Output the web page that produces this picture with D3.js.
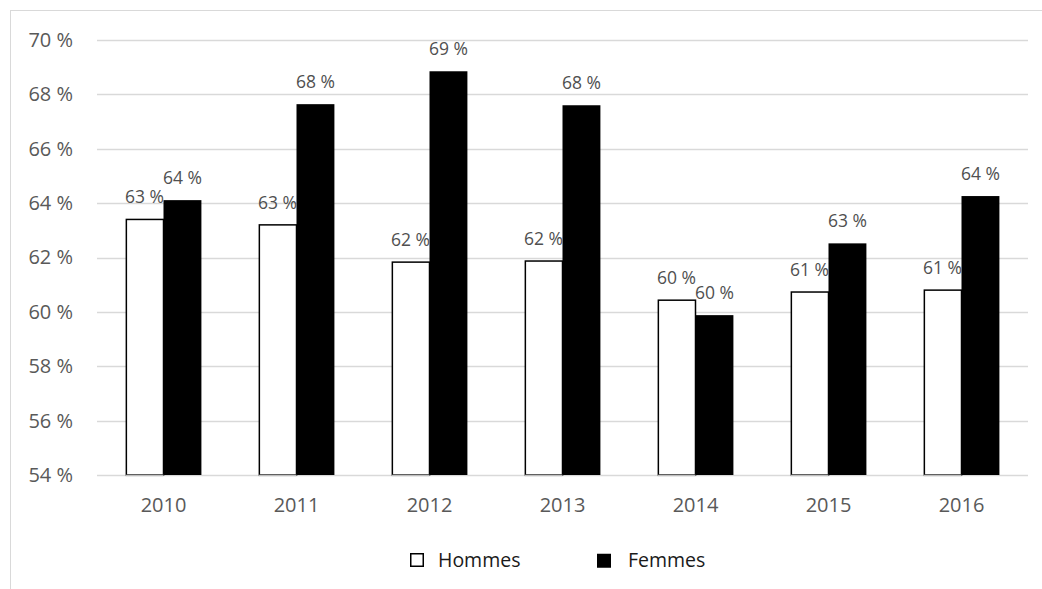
<!DOCTYPE html>
<html>
<head>
<meta charset="utf-8">
<script src="https://cdn.jsdelivr.net/npm/d3@7"></script>
<style>
  body { margin: 0; background: #fff; }
  svg { display: block; font-family: "Open Sans", "Noto Sans", sans-serif; }
</style>
</head>
<body>
<div id="chart"></div>
<script>
// data
var years = ["2010", "2011", "2012", "2013", "2014", "2015", "2016"];
var hommes = [63.4, 63.2, 61.83, 61.87, 60.43, 60.73, 60.8];
var femmes = [64.11, 67.64, 68.85, 67.6, 59.88, 62.52, 64.26];
var yTicks = [54, 56, 58, 60, 62, 64, 66, 68, 70];
var seriesNames = ["Hommes", "Femmes"];

var W = 1042, H = 589;
var margin = {top: 40, right: 14, bottom: 114, left: 97};
var width = W - margin.left - margin.right,
    height = H - margin.top - margin.bottom;

var svg = d3.select("#chart").append("svg")
  .attr("width", W)
  .attr("height", H);

// chart frame (cropped on right/bottom)
svg.append("rect")
  .attr("x", 10.5).attr("y", 10.5)
  .attr("width", 1200).attr("height", 800)
  .attr("fill", "none")
  .attr("stroke", "#d9d9d9")
  .attr("stroke-width", 1);

var g = svg.append("g")
  .attr("transform", "translate(" + margin.left + "," + margin.top + ")");

var x0 = d3.scaleBand().domain(years).range([0, width]).paddingInner(0.43).paddingOuter(0.215);
var x1 = d3.scaleBand().domain(seriesNames).range([0, x0.bandwidth()]);
var y = d3.scaleLinear().domain([54, 70]).range([height, 0]);

// gridlines
g.append("g")
  .selectAll("line")
  .data(yTicks)
  .enter().append("line")
    .attr("x1", 0).attr("x2", width)
    .attr("y1", function(d) { return Math.round(y(d)) + 0.5; })
    .attr("y2", function(d) { return Math.round(y(d)) + 0.5; })
    .attr("stroke", "#d9d9d9")
    .attr("stroke-width", 1.5);

// y axis labels
var yAxis = d3.axisLeft(y).tickValues(yTicks).tickSize(0).tickPadding(24)
  .tickFormat(function(d) { return d + " %"; });
g.append("g").call(yAxis)
  .call(function(s) { s.select(".domain").remove(); })
  .selectAll("text")
    .attr("fill", "#595959")
    .style("font-size", "20px")
    .style("font-family", "\"Open Sans\", \"Noto Sans\", sans-serif");

// x axis labels
var xAxis = d3.axisBottom(x0).tickSize(0).tickPadding(23);
g.append("g").attr("transform", "translate(0," + height + ")").call(xAxis)
  .call(function(s) { s.select(".domain").remove(); })
  .selectAll("text")
    .attr("fill", "#595959")
    .style("font-size", "20px")
    .style("font-family", "\"Open Sans\", \"Noto Sans\", sans-serif");

var rows = years.map(function(yr, i) {
  return {year: yr, vals: [{s: "Hommes", v: hommes[i]}, {s: "Femmes", v: femmes[i]}]};
});

var groups = g.selectAll(".grp")
  .data(rows)
  .enter().append("g")
    .attr("class", "grp")
    .attr("transform", function(d) { return "translate(" + x0(d.year) + ",0)"; });

groups.selectAll("rect")
  .data(function(d) { return d.vals; })
  .enter().append("rect")
    .attr("x", function(d) { return x1(d.s) + (d.s == "Hommes" ? 0.75 : 0); })
    .attr("y", function(d) { return y(d.v); })
    .attr("width", function(d) { return x1.bandwidth() - (d.s == "Hommes" ? 0.75 : 0); })
    .attr("height", function(d) { return height - y(d.v); })
    .attr("fill", function(d) { return d.s == "Hommes" ? "#fff" : "#000"; })
    .attr("stroke", function(d) { return d.s == "Hommes" ? "#000" : "none"; })
    .attr("stroke-width", 1.5);

// bottom of white bars drawn gray like axis line
groups.append("line")
  .attr("x1", x1("Hommes")).attr("x2", x1("Hommes") + x1.bandwidth())
  .attr("y1", height + 0.5).attr("y2", height + 0.5)
  .attr("stroke", "#bfbfbf").attr("stroke-width", 1.5);

// value labels
groups.selectAll("text.val")
  .data(function(d) { return d.vals; })
  .enter().append("text")
    .attr("class", "val")
    .attr("x", function(d) { return x1(d.s) + x1.bandwidth() / 2; })
    .attr("y", function(d) { return y(d.v) - 16; })
    .attr("text-anchor", "middle")
    .attr("fill", "#505050")
    .style("font-size", "17.5px")
    .text(function(d) { return Math.round(d.v) + " %"; });

// legend
var legend = svg.append("g");
var legX = [410, 597];
var legTextOff = [28, 31];
seriesNames.forEach(function(name, i) {
  legend.append("rect")
    .attr("x", legX[i] + (i == 0 ? 0.75 : 0)).attr("y", 553.75)
    .attr("width", i == 0 ? 12.5 : 14).attr("height", i == 0 ? 12.5 : 14)
    .attr("fill", i == 0 ? "#fff" : "#000")
    .attr("stroke", i == 0 ? "#000" : "none")
    .attr("stroke-width", 1.5);
  legend.append("text")
    .attr("x", legX[i] + legTextOff[i]).attr("y", 567)
    .attr("fill", "#1a1a1a")
    .style("font-size", "19.5px")
    .text(name);
});
</script>
</body>
</html>
